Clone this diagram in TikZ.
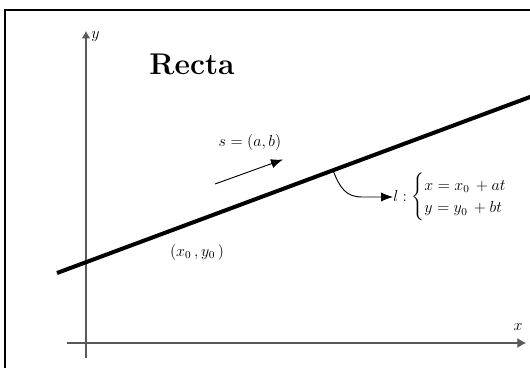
\documentclass[tikz,border=0pt]{standalone}
\usepackage{amsmath}
\usetikzlibrary{arrows.meta}
\begin{document}
\begin{tikzpicture}[x=0.75pt,y=-0.75pt,
  axis/.style={draw=black!65,line width=0.8pt},
  frameline/.style={draw=black,line width=1.5pt},
  lbl/.style={inner sep=0pt,font=\fontsize{12}{14}\selectfont},
  tip/.style={-{Latex[length=9pt,width=7pt]}}]
\useasboundingbox (0,0) rectangle (530,367);
\begin{scope}
\clip (0,0) rectangle (530,367);
% frame
\draw[frameline] (5,372) -- (5,10) -- (535,10);
% axes
\coordinate (yb) at (86,358);
\coordinate (yt) at (86,31);
\coordinate (xl) at (67,343);
\coordinate (xr) at (526,343);
\draw[axis,-{Latex[length=5.5pt,width=6.5pt]},draw=black!65] (yb) -- (yt);
\draw[axis,-{Latex[length=6.5pt,width=7.5pt]}] (xl) -- (xr);
\node[lbl,anchor=west] (ylab) at (91,37) {$y$};
\node[lbl] (xlab) at (518,327) {$x$};
% title
\node[font=\fontsize{22.5}{26}\selectfont\bfseries] (title) at (192,64) {Recta};
% main line
\coordinate (la) at (57,273);
\coordinate (lb) at (534,95.5);
\draw[line width=3pt] (la) -- (lb);
% point
\coordinate (p0) at (168,231.7);
\fill (p0) circle (2);
\node[lbl] (p0lab) at (197,252) {$(x_0\,,y_0\,)$};
% direction vector
\coordinate (sa) at (215,184);
\coordinate (sb) at (283,159.5);
\draw[line width=0.7pt,tip] (sa) -- (sb);
\node[lbl] (slab) at (250,142) {$s=(a,b)$};
% equation
\node[lbl,anchor=west] (eq) at (393,197) {$l:\begin{cases} x = x_0\, + at\\ y = y_0\, + bt\end{cases}$};
\coordinate (lp) at (333,170.5);
\draw[line width=0.7pt,tip] (lp) .. controls (340,188) and (346,197) .. (362,197) -- (eq.west);
\end{scope}
\end{tikzpicture}
\end{document}
